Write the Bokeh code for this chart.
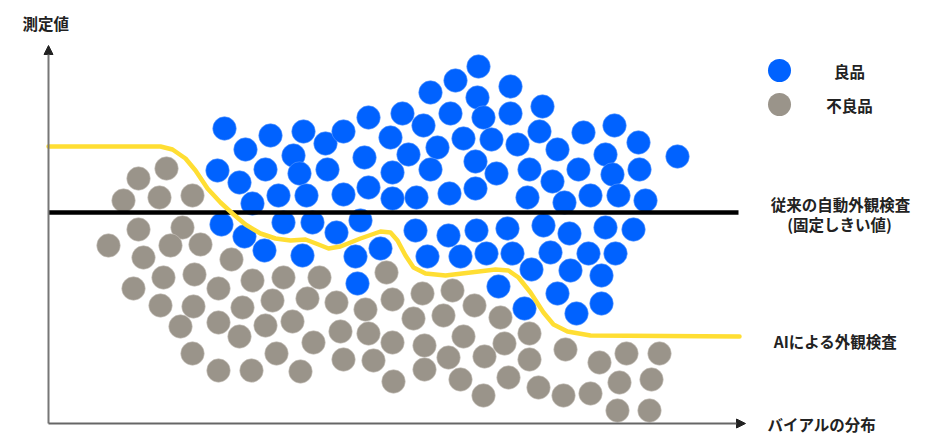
from bokeh.plotting import figure
from bokeh.models import Range1d, Arrow, NormalHead
from bokeh.core.properties import value
from bokeh.embed import file_html
from bokeh.resources import INLINE

FONT = value("Noto Sans CJK JP")

# 良品 (good products): x = vial distribution position, y = measured value
good_x = [176, 197, 222, 255, 245, 169, 191, 217, 251, 204, 230, 258, 277, 279, 295, 320, 354, 316,
          360, 342, 375, 382, 407, 430, 429, 402, 435, 462, 462, 494, 389, 415, 443, 469, 491, 509,
          535, 566, 557, 590, 629, 382, 427, 448, 481, 504, 530, 564, 591, 344, 320, 295, 344, 368,
          401, 427, 479, 516, 542, 570, 597,
          173, 196, 235, 264, 216, 254, 288, 312, 307, 332, 309, 367, 400, 428, 459, 495, 521, 557,
          585, 379, 412, 438, 464, 483, 502, 522, 540, 567, 553, 450, 509, 476, 528, 553]
good_y = [295, 274, 288, 292, 268, 253, 241, 254, 250, 220, 228, 228, 280, 254, 292, 306, 310, 266,
          269, 286, 298, 331, 343, 357, 326, 310, 306, 337, 310, 317, 276, 285, 284, 279, 292, 274,
          291, 298, 269, 281, 267, 254, 262, 250, 254, 242, 254, 249, 254, 251, 236, 229, 225, 226,
          230, 235, 226, 221, 228, 228, 223,
          199, 187, 201, 201, 173, 168, 191, 203, 167, 175, 140, 193, 188, 193, 195, 198, 190, 196,
          194, 167, 167, 170, 170, 154, 171, 153, 170, 170, 148, 137, 130, 115, 110, 120]

# 不良品 (defective products)
bad_x = [118, 90, 75, 111, 144, 90, 134, 60, 122, 152, 95, 183, 115, 146, 170, 204, 235, 271, 85,
         112, 145, 194, 224, 259, 132, 170, 217, 244, 191, 265, 144, 228, 170, 203, 252, 338, 288,
         317, 344, 374, 404, 426, 365, 395, 452, 481, 292, 320, 344, 376, 415, 456, 517, 295, 325,
         400, 436, 481, 551, 578, 345, 376, 412, 460, 490, 515, 542, 571, 435, 569, 611, 603, 601]
bad_y = [255, 245, 223, 226, 228, 194, 196, 178, 178, 179, 166, 164, 146, 149, 135, 143, 146, 146, 135,
         118, 117, 116, 123, 125, 97, 101, 98, 102, 87, 81, 70, 70, 53, 53, 52, 151, 121,
         114, 124, 130, 133, 118, 105, 108, 106, 90, 92, 90, 81, 78, 87, 80, 74, 64, 63,
         66, 67, 64, 61, 70, 42, 54, 44, 46, 36, 28, 30, 41, 28, 13, 70, 44, 13]

# AI inspection boundary (yellow curve)
ai_x = [0, 112, 124, 137, 147, 159, 172, 184, 197, 212, 227, 242, 257, 270, 280, 292, 312, 332, 342,
        349, 357, 365, 377, 397, 422, 447, 460, 470, 482, 495, 505, 519, 542, 691]
ai_y = [277, 277, 274, 265, 253, 235, 221, 210, 199, 190, 185, 183, 184, 179, 175, 177, 185, 192, 191,
        183, 168, 156, 150, 148, 151, 154, 153, 146, 131, 111, 99, 92, 88, 87]

# conventional fixed threshold
thr_x = [0, 690]
thr_y = [211, 211]

legend_labels = ["良品", "不良品"]
legend_colors = ["#0062FF", "#9A948A"]
legend_dot_x = [731, 731]
legend_dot_y = [353, 319]
legend_text_x = [801, 801]

line_labels = ["従来の自動外観検査", "(固定しきい値)", "AIによる外観検査"]
line_label_x = [792, 791, 787]
line_label_y = [220, 200, 83]

p = figure(width=927, height=444, output_backend="svg", toolbar_location=None,
           x_range=Range1d(-48, 879), y_range=Range1d(-21, 423),
           x_axis_type=None, y_axis_type=None, min_border=0)
p.grid.visible = False
p.outline_line_color = None
p.background_fill_color = "white"
p.border_fill_color = "white"

# axes with arrows
p.add_layout(Arrow(end=NormalHead(size=9, fill_color="#222222", line_color="#222222"),
                   x_start=0, y_start=0, x_end=0, y_end=378, line_color="#777777", line_width=2))
p.add_layout(Arrow(end=NormalHead(size=9, fill_color="#222222", line_color="#222222"),
                   x_start=0, y_start=0, x_end=697, y_end=0, line_color="#666666", line_width=2))

p.scatter(bad_x, bad_y, size=23.5, fill_color="#9A948A", line_color="#C9C5BE", line_width=0.6)
p.scatter(good_x, good_y, size=23.5, fill_color="#0062FF", line_color="#5C9BFF", line_width=0.6)

p.line(thr_x, thr_y, line_color="#000000", line_width=4.5)
p.line(ai_x, ai_y, line_color="#FFDE33", line_width=4.5, line_join="round", line_cap="round")

# legend
p.scatter(legend_dot_x, legend_dot_y, size=23, fill_color=legend_colors, line_color=None)
p.text(legend_text_x, legend_dot_y, text=legend_labels, text_font=FONT, text_font_style="bold",
       text_font_size="15.5px", text_align="center", text_baseline="middle", text_color="#222222")

p.text(line_label_x, line_label_y, text=line_labels, text_font=FONT, text_font_style="bold",
       text_font_size="15.5px", text_align="center", text_baseline="middle", text_color="#222222")

p.text([719], [0], text=["バイアルの分布"], text_font=FONT, text_font_style="bold",
       text_font_size="15.5px", text_align="left", text_baseline="middle", text_color="#222222")
p.text([-26], [401], text=["測定値"], text_font=FONT, text_font_style="bold",
       text_font_size="15.5px", text_align="left", text_baseline="middle", text_color="#222222")

open("out.html", "w").write(file_html(p, INLINE))
